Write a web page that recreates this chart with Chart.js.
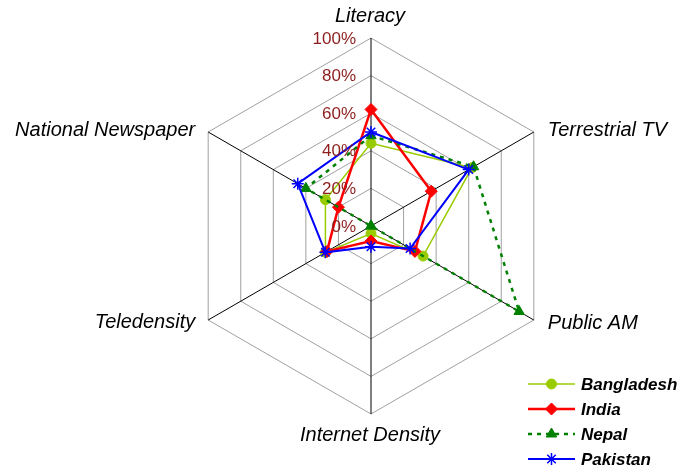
<!DOCTYPE html>
<html>
<head>
<meta charset="utf-8">
<title>Media and telecom access – South Asia</title>
<script src="https://cdn.jsdelivr.net/npm/chart.js@4/dist/chart.umd.min.js"></script>
<style>
  html, body { margin: 0; padding: 0; background: #ffffff; }
  #wrap { width: 678px; height: 467px; position: relative; }
</style>
</head>
<body>
<div id="wrap"><canvas id="radar" width="678" height="467"></canvas></div>
<script>
// Axis categories, clockwise from the top
const AXES = ['Literacy', 'Terrestrial TV', 'Public AM', 'Internet Density', 'Teledensity', 'National Newspaper'];

// Coverage per country, in percent
const BANGLADESH = [44, 62, 32, 4, 28, 28];
const INDIA      = [62, 37, 27, 8, 27, 20];
const NEPAL      = [48, 63, 91, 0, 0, 40];
const PAKISTAN   = [50, 60, 24, 11, 28, 45];

// Radial scale ticks
const TICK_VALUES = [0, 20, 40, 60, 80, 100];
const TICK_LABELS = ['0%', '20%', '40%', '60%', '80%', '100%'];

// Plot geometry
const CENTER_X = 371, CENTER_Y = 226, RADIUS = 188;

const LABEL_FONT = 'italic 20px "Liberation Sans", Arial, sans-serif';
const TICK_FONT = '17px "Liberation Sans", Arial, sans-serif';
const LEGEND_FONT = 'italic bold 17px "Liberation Sans", Arial, sans-serif';

const datasets = [
  { label: 'Bangladesh', data: BANGLADESH, borderColor: '#99CC00', backgroundColor: '#99CC00',
    borderWidth: 1.5, pointStyle: 'circle', pointRadius: 5, pointBorderWidth: 1,
    pointBackgroundColor: '#99CC00', pointBorderColor: '#99CC00', order: 4 },
  { label: 'India', data: INDIA, borderColor: '#FF0000', backgroundColor: '#FF0000',
    borderWidth: 2.5, pointStyle: 'rectRot', pointRadius: 6, pointBorderWidth: 1,
    pointBackgroundColor: '#FF0000', pointBorderColor: '#FF0000', order: 3 },
  { label: 'Nepal', data: NEPAL, borderColor: '#008000', backgroundColor: '#008000',
    borderWidth: 2.5, borderDash: [4, 5], pointStyle: 'triangle', pointRadius: 6, pointBorderWidth: 1,
    pointBackgroundColor: '#008000', pointBorderColor: '#008000', order: 2 },
  { label: 'Pakistan', data: PAKISTAN, borderColor: '#0000FF', backgroundColor: '#0000FF',
    borderWidth: 2, pointStyle: 'star', pointRadius: 6, pointBorderWidth: 1.5,
    pointBackgroundColor: '#0000FF', pointBorderColor: '#0000FF', order: 1 }
];
datasets.forEach(d => { d.fill = false; d.tension = 0; });

function drawMarker(ctx, ds, x, y) {
  ctx.save();
  ctx.fillStyle = ds.pointBackgroundColor;
  ctx.strokeStyle = ds.pointBorderColor;
  ctx.lineWidth = ds.pointBorderWidth;
  ctx.setLineDash([]);
  if (Chart.helpers && Chart.helpers.drawPoint) {
    Chart.helpers.drawPoint(ctx, { pointStyle: ds.pointStyle, radius: ds.pointRadius,
      borderWidth: ds.pointBorderWidth, rotation: 0 }, x, y);
  }
  ctx.restore();
}

// Axis titles, percent ticks along the Literacy axis, and the legend
const decorations = {
  id: 'decorations',
  afterDraw(chart) {
    const ctx = chart.ctx;
    const r = chart.scales.r;

    // axis titles
    ctx.save();
    ctx.font = LABEL_FONT;
    ctx.fillStyle = '#000000';
    ctx.textBaseline = 'middle';
    AXES.forEach((name, i) => {
      const p = r.getPointPosition(i, r.drawingArea);
      const dx = p.x - r.xCenter;
      if (Math.abs(dx) < 1) {
        ctx.textAlign = 'center';
        ctx.fillText(name, p.x - 1, p.y < r.yCenter ? p.y - 22 : p.y + 21);
      } else if (dx > 0) {
        ctx.textAlign = 'left';
        ctx.fillText(name, p.x + 14, p.y < r.yCenter ? p.y - 2 : p.y + 3);
      } else {
        ctx.textAlign = 'right';
        ctx.fillText(name, p.x - 13, p.y < r.yCenter ? p.y - 2 : p.y + 2);
      }
    });
    ctx.restore();

    // tick labels
    ctx.save();
    ctx.font = TICK_FONT;
    ctx.fillStyle = '#8C1E1E';
    ctx.textAlign = 'right';
    ctx.textBaseline = 'middle';
    TICK_VALUES.forEach((v, i) => {
      const p = r.getPointPosition(0, r.getDistanceFromCenterForValue(v));
      ctx.fillText(TICK_LABELS[i], r.xCenter - 15, p.y + 1);
    });
    ctx.restore();

    // legend
    const lx0 = 528, lx1 = 575, tx = 581, ly0 = 384, step = 25;
    chart.data.datasets.forEach((ds, i) => {
      const y = ly0 + i * step;
      ctx.save();
      ctx.strokeStyle = ds.borderColor;
      ctx.lineWidth = ds.borderWidth;
      ctx.setLineDash(ds.borderDash || []);
      ctx.beginPath();
      ctx.moveTo(lx0, y);
      ctx.lineTo(lx1, y);
      ctx.stroke();
      ctx.restore();
      drawMarker(ctx, ds, (lx0 + lx1) / 2, y);
      ctx.save();
      ctx.font = LEGEND_FONT;
      ctx.fillStyle = '#000000';
      ctx.textAlign = 'left';
      ctx.textBaseline = 'middle';
      ctx.fillText(ds.label, tx, y + 1);
      ctx.restore();
    });
  }
};

new Chart(document.getElementById('radar'), {
  type: 'radar',
  data: { labels: AXES, datasets },
  options: {
    responsive: false,
    animation: false,
    events: [],
    plugins: { legend: { display: false }, tooltip: { enabled: false } },
    elements: { line: { tension: 0 } },
    scales: {
      r: {
        min: 0,
        max: 100,
        ticks: { stepSize: 20, display: false },
        pointLabels: { display: false },
        grid: { color: '#A0A0A0', lineWidth: 1, circular: false },
        angleLines: { color: '#000000', lineWidth: 1 },
        afterFit(scale) {
          scale.xCenter = CENTER_X;
          scale.yCenter = CENTER_Y;
          scale.drawingArea = RADIUS;
        }
      }
    }
  },
  plugins: [decorations]
});
</script>
</body>
</html>
